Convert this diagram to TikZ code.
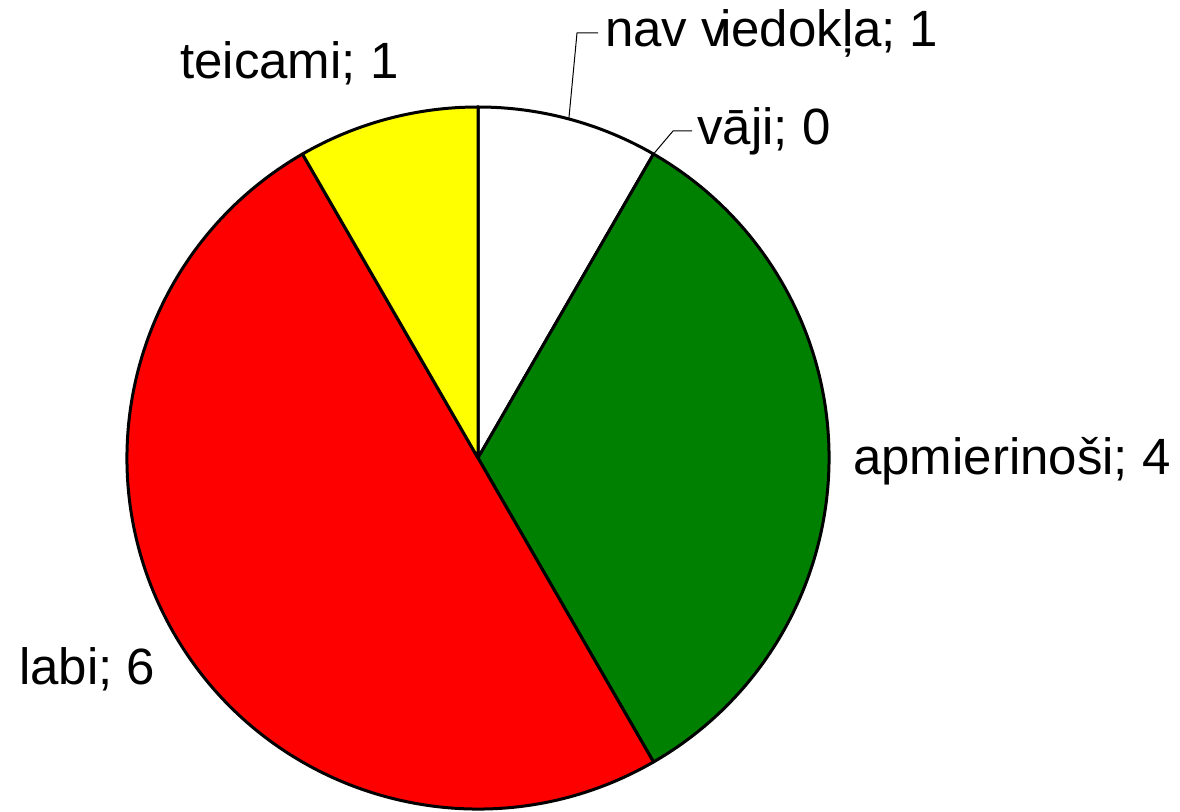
\documentclass[tikz,border=0pt]{standalone}
\usepackage{fontspec}
\setmainfont{Liberation Sans}
\usetikzlibrary{positioning}

\definecolor{pieGreen}{RGB}{0,128,0}
\definecolor{pieRed}{RGB}{255,0,0}
\definecolor{pieYellow}{RGB}{255,255,0}

\begin{document}
\begin{tikzpicture}[x=1pt, y=1pt, slice/.style={draw=black, line width=3pt, line join=round}, lbl/.style={anchor=base west, inner sep=0pt, font=\fontsize{51}{60}\selectfont}, leader/.style={draw=black, line width=1pt}]
  \useasboundingbox (0,0) rectangle (1180,811);
  \coordinate (O) at (478,353);
  % slices, 12 answers in all
  \filldraw[slice, fill=white] (O) -- ++(60:351) arc[start angle=60, end angle=90, radius=351] -- cycle;
  \filldraw[slice, fill=pieGreen] (O) -- ++(-60:351) arc[start angle=-60, end angle=60, radius=351] -- cycle;
  \filldraw[slice, fill=pieRed] (O) -- ++(120:351) arc[start angle=120, end angle=300, radius=351] -- cycle;
  \filldraw[slice, fill=pieYellow] (O) -- ++(90:351) arc[start angle=90, end angle=120, radius=351] -- cycle;
  % labels
  \node[lbl] (N) at (605,764) {nav v\kern-7pt iedokļa; 1};
  \node[lbl] (V) at (697,666) {vāji; 0};
  \node[lbl] (A) at (853,336) {apmierinoši; 4};
  \node[lbl] (L) at (19,126) {labi; 6};
  \node[lbl] (T) at (180,732) {teicami; 1};
  % leader lines
  \coordinate (n1) at ([shift={(75:351)}]O);
  \coordinate (n2) at (598,778);
  \coordinate (v1) at ([shift={(60:351)}]O);
  \coordinate (v2) at (692,680);
  \draw[leader] (n1) -- (577,778) -- (n2);
  \draw[leader] (v1) -- (673,680) -- (v2);
\end{tikzpicture}
\end{document}
